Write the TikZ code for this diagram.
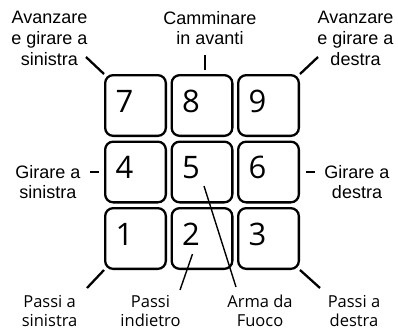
\documentclass[tikz,border=0pt]{standalone}
\usepackage{fontspec}
\setmainfont{Liberation Sans}
\newfontfamily\keyfont{Open Sans}
\usetikzlibrary{calc}
\begin{document}
\begin{tikzpicture}[x=1pt,y=-1pt,
  keybox/.style={draw, line width=2.3pt, rounded corners=8pt, minimum width=60.7pt, minimum height=60.7pt, inner sep=0pt},
  keynum/.style={font=\keyfont\fontsize{31}{31}\selectfont, inner sep=0pt},
  lbl/.style={font=\fontsize{18}{20.7}\selectfont, align=center, inner sep=0pt},
  blbl/.style={font=\keyfont\fontsize{16.5}{19.4}\selectfont, align=center, inner sep=0pt},
  conn/.style={line width=2.3pt},
  thinconn/.style={line width=1.4pt}]
\useasboundingbox (0,0) rectangle (398,332);
% keys
\node[keybox] (k7) at (135.5,105.5) {};
\node[keybox] (k8) at (202,105.5) {};
\node[keybox] (k9) at (268.5,105.5) {};
\node[keybox] (k4) at (135.5,172) {};
\node[keybox] (k5) at (202,172) {};
\node[keybox] (k6) at (268.5,172) {};
\node[keybox] (k1) at (135.5,238.5) {};
\node[keybox] (k2) at (202,238.5) {};
\node[keybox] (k3) at (268.5,238.5) {};
% digits
\node[keynum] (n7) at ($(k7)+(-11,-4.5)$) {7};
\node[keynum] (n8) at ($(k8)+(-11,-4.5)$) {8};
\node[keynum] (n9) at ($(k9)+(-11,-4.5)$) {9};
\node[keynum] (n4) at ($(k4)+(-11,-4.5)$) {4};
\node[keynum] (n5) at ($(k5)+(-11,-4.5)$) {5};
\node[keynum] (n6) at ($(k6)+(-11,-4.5)$) {6};
\node[keynum] (n1) at ($(k1)+(-11,-4.5)$) {1};
\node[keynum] (n2) at ($(k2)+(-11,-4.5)$) {2};
\node[keynum] (n3) at ($(k3)+(-11,-4.5)$) {3};
% labels
\node[lbl] (l7) at (49.5,38.3) {Avanzare\\e girare a\\sinistra};
\node[lbl] (l8) at (210,28) {Camminare\\in avanti};
\node[lbl] (l9) at (355.5,38.3) {Avanzare\\e girare a\\destra};
\node[lbl] (l4) at (48,182.1) {Girare a\\sinistra};
\node[lbl] (l6) at (357,182.1) {Girare a\\destra};
\node[blbl] (l1) at (49.6,311) {Passi a\\sinistra};
\node[blbl] (l2) at (150.5,311) {Passi\\indietro};
\node[blbl] (l5) at (260,311) {Arma da\\Fuoco};
\node[blbl] (l3) at (354,311) {Passi a\\destra};
% connector ends
\coordinate (c7) at (86,57);
\coordinate (c8) at (205,55);
\coordinate (c9) at (318,57);
\coordinate (d4) at (90,172);
\coordinate (d6) at (315,172);
\coordinate (c1) at (87,288);
\coordinate (c2a) at (192.5,254);
\coordinate (c2b) at (180,290);
\coordinate (c5a) at (204,186);
\coordinate (c5b) at (236,287);
\coordinate (c3) at (320,288);
% connectors
\draw[conn] (c7) -- (k7.north west);
\draw[conn, shorten >=4pt] (c8) -- (c8 |- k8.north);
\draw[conn] (c9) -- (k9.north east);
\draw[conn, shorten >=5pt] (d4) -- (k4.west);
\draw[conn, shorten <=6pt] (k6.east) -- (d6);
\draw[conn] (k1.south west) -- (c1);
\draw[thinconn] (c2a) -- (c2b);
\draw[thinconn] (c5a) -- (c5b);
\draw[conn] (k3.south east) -- (c3);
\end{tikzpicture}
\end{document}
